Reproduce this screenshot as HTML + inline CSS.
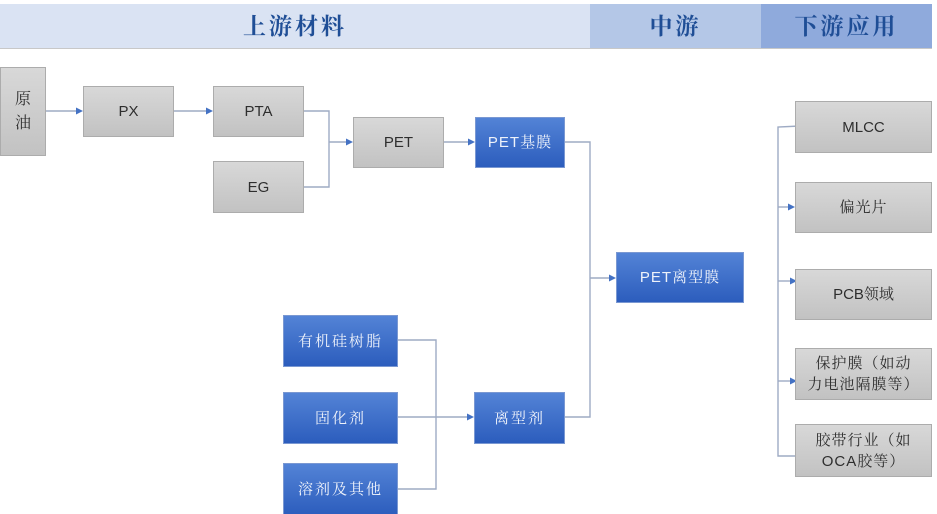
<!DOCTYPE html>
<html>
<head>
<meta charset="utf-8">
<title>diagram</title>
<style>
html,body{margin:0;padding:0;background:#ffffff;width:937px;height:514px;overflow:hidden;}
#wrap{position:relative;width:937px;height:514px;}
.hd{position:absolute;top:4px;height:44px;line-height:46px;text-align:center;font-family:"Liberation Serif","Noto Serif CJK SC",serif;font-size:23px;font-weight:bold;color:#1f4e96;letter-spacing:3px;}
.bx{position:absolute;box-sizing:border-box;display:flex;align-items:center;justify-content:center;text-align:center;font-family:"Liberation Sans","Noto Serif CJK SC",sans-serif;font-size:15px;line-height:21px;}
.gr{background:linear-gradient(#d8d8d8,#c2c2c2);border:1px solid #acacac;color:#2e2e2e;}
.bl{background:linear-gradient(#5383d6,#2c5dbd);border:1px solid #7a98d2;color:#eef2fa;letter-spacing:1px;}
svg{position:absolute;left:0;top:0;}
</style>
</head>
<body>
<div id="wrap">
<div class="hd" style="left:0;width:590px;background:#dae3f3;">上游材料</div>
<div class="hd" style="left:590px;width:171px;background:#b4c7e7;">中游</div>
<div class="hd" style="left:761px;width:171px;background:#8faadc;">下游应用</div>
<div style="position:absolute;left:0;top:48px;width:932px;height:1px;background:#c8c8c8;"></div>

<svg width="937" height="514" viewBox="0 0 937 514">
<g stroke="#9eabc4" stroke-width="1.4" fill="none">
<line x1="45" y1="111" x2="80" y2="111"/>
<line x1="174" y1="111" x2="210" y2="111"/>
<polyline points="303,111 329,111 329,187 303,187"/>
<line x1="329" y1="142" x2="350" y2="142"/>
<line x1="444" y1="142" x2="472" y2="142"/>
<polyline points="564,142 590,142 590,417 564,417"/>
<line x1="590" y1="278" x2="613" y2="278"/>
<polyline points="397,340 436,340 436,489 397,489"/>
<line x1="397" y1="417" x2="471" y2="417"/>
<polyline points="800,126 778,127 778,456 795,456"/>
<line x1="778" y1="207" x2="792" y2="207"/>
<line x1="778" y1="281" x2="794" y2="281"/>
<line x1="778" y1="381" x2="794" y2="381"/>
</g>
<g fill="#4472c4">
<polygon points="76,107.5 83,111 76,114.5"/>
<polygon points="206,107.5 213,111 206,114.5"/>
<polygon points="346,138.5 353,142 346,145.5"/>
<polygon points="468,138.5 475,142 468,145.5"/>
<polygon points="609,274.5 616,278 609,281.5"/>
<polygon points="467,413.5 474,417 467,420.5"/>
<polygon points="788,203.5 795,207 788,210.5"/>
<polygon points="790,277.5 797,281 790,284.5"/>
<polygon points="790,377.5 797,381 790,384.5"/>
</g>
</svg>

<div class="bx gr" style="left:0;top:67px;width:46px;height:89px;font-size:16px;line-height:24px;">原<br>油</div>
<div class="bx gr" style="left:83px;top:86px;width:91px;height:51px;">PX</div>
<div class="bx gr" style="left:213px;top:86px;width:91px;height:51px;">PTA</div>
<div class="bx gr" style="left:213px;top:161px;width:91px;height:52px;">EG</div>
<div class="bx gr" style="left:353px;top:117px;width:91px;height:51px;">PET</div>
<div class="bx gr" style="left:795px;top:101px;width:137px;height:52px;">MLCC</div>
<div class="bx gr" style="left:795px;top:182px;width:137px;height:51px;letter-spacing:1px;">偏光片</div>
<div class="bx gr" style="left:795px;top:269px;width:137px;height:51px;">PCB领域</div>
<div class="bx gr" style="left:795px;top:348px;width:137px;height:52px;letter-spacing:1px;">保护膜（如动<br>力电池隔膜等）</div>
<div class="bx gr" style="left:795px;top:424px;width:137px;height:53px;letter-spacing:1px;">胶带行业（如<br>OCA胶等）</div>

<div class="bx bl" style="left:475px;top:117px;width:90px;height:51px;">PET基膜</div>
<div class="bx bl" style="left:616px;top:252px;width:128px;height:51px;">PET离型膜</div>
<div class="bx bl" style="left:283px;top:315px;width:115px;height:52px;letter-spacing:2px;">有机硅树脂</div>
<div class="bx bl" style="left:283px;top:392px;width:115px;height:52px;letter-spacing:2px;">固化剂</div>
<div class="bx bl" style="left:283px;top:463px;width:115px;height:53px;letter-spacing:2px;">溶剂及其他</div>
<div class="bx bl" style="left:474px;top:392px;width:91px;height:52px;letter-spacing:2px;">离型剂</div>
</div>
</body>
</html>
